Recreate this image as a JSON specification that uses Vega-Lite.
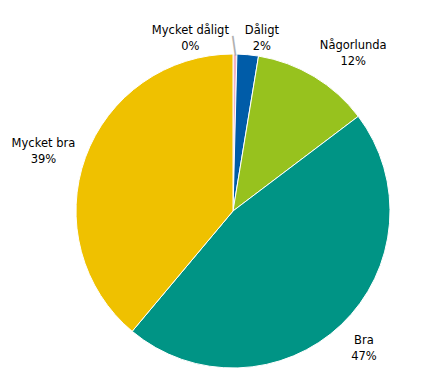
{
  "$schema": "https://vega.github.io/schema/vega-lite/v6.json",
  "width": 314,
  "height": 314,
  "autosize": {"type": "none"},
  "padding": {"left": 76, "top": 54, "right": 32, "bottom": 13},
  "background": "white",
  "view": {"stroke": null},
  "data": {
    "values": [
      {"nr": 1, "kategori": "Mycket dåligt", "andel": 0.4, "etikett": "Mycket dåligt\n0%"},
      {"nr": 2, "kategori": "Dåligt", "andel": 2.2, "etikett": "Dåligt\n2%"},
      {"nr": 3, "kategori": "Någorlunda", "andel": 12.1, "etikett": "Någorlunda\n12%"},
      {"nr": 4, "kategori": "Bra", "andel": 46.4, "etikett": "Bra\n47%"},
      {"nr": 5, "kategori": "Mycket bra", "andel": 38.9, "etikett": "Mycket bra\n39%"}
    ]
  },
  "encoding": {
    "theta": {"field": "andel", "type": "quantitative", "stack": true},
    "order": {"field": "nr", "type": "quantitative"}
  },
  "layer": [
    {
      "mark": {"type": "arc", "stroke": "white", "strokeWidth": 1},
      "encoding": {
        "color": {
          "field": "kategori",
          "type": "nominal",
          "legend": null,
          "scale": {
            "domain": ["Mycket dåligt", "Dåligt", "Någorlunda", "Bra", "Mycket bra"],
            "range": ["#f2b5c4", "#005ca8", "#97c21e", "#009485", "#efc100"]
          }
        }
      }
    },
    {
      "mark": {"type": "text", "radius": 166, "dx": -1, "dy": 0, "angle": -8, "font": "DejaVu Sans", "fontSize": 20, "baseline": "middle", "align": "center", "color": "#b0b0b0"},
      "encoding": {"text": {"condition": {"test": "datum.nr == 1", "value": "|"}, "value": ""}}
    },
    {
      "mark": {"type": "text", "radius": 190, "dx": -45, "dy": 10, "lineBreak": "\n", "font": "DejaVu Sans", "fontSize": 11.5, "lineHeight": 16, "baseline": "middle", "align": "center", "color": "black"},
      "encoding": {"text": {"condition": {"test": "datum.nr == 1", "field": "etikett"}, "value": ""}}
    },
    {
      "mark": {"type": "text", "radius": 190, "dx": 11, "dy": 9, "lineBreak": "\n", "font": "DejaVu Sans", "fontSize": 11.5, "lineHeight": 16, "baseline": "middle", "align": "center", "color": "black"},
      "encoding": {"text": {"condition": {"test": "datum.nr == 2", "field": "etikett"}, "value": ""}}
    },
    {
      "mark": {"type": "text", "radius": 190, "dx": 22, "dy": -2, "lineBreak": "\n", "font": "DejaVu Sans", "fontSize": 11.5, "lineHeight": 16, "baseline": "middle", "align": "center", "color": "black"},
      "encoding": {"text": {"condition": {"test": "datum.nr == 3", "field": "etikett"}, "value": ""}}
    },
    {
      "mark": {"type": "text", "radius": 190, "dx": 0, "dy": -8, "lineBreak": "\n", "font": "DejaVu Sans", "fontSize": 11.5, "lineHeight": 16, "baseline": "middle", "align": "center", "color": "black"},
      "encoding": {"text": {"condition": {"test": "datum.nr == 4", "field": "etikett"}, "value": ""}}
    },
    {
      "mark": {"type": "text", "radius": 190, "dx": -11, "dy": -2, "lineBreak": "\n", "font": "DejaVu Sans", "fontSize": 11.5, "lineHeight": 16, "baseline": "middle", "align": "center", "color": "black"},
      "encoding": {"text": {"condition": {"test": "datum.nr == 5", "field": "etikett"}, "value": ""}}
    }
  ]
}
